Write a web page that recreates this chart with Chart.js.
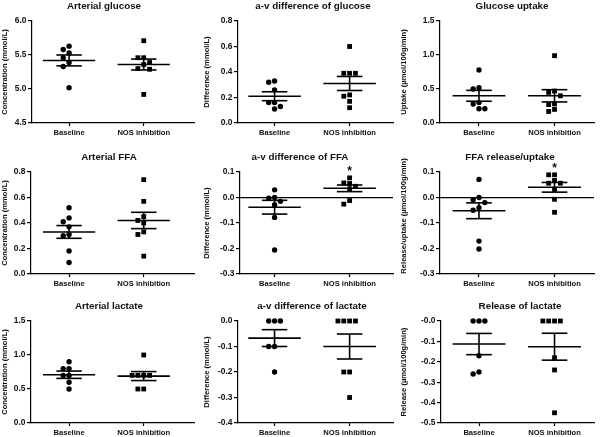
<!DOCTYPE html>
<html><head><meta charset="utf-8">
<script src="https://cdn.jsdelivr.net/npm/chart.js@4.4.1/dist/chart.umd.min.js"></script>
<style>
html,body{margin:0;padding:0;background:#fff;width:600px;height:437px;overflow:hidden;position:relative;}
</style></head><body>
<script>
// ---------------- DATA ----------------
const groupLabels = ['Baseline', 'NOS inhibition'];

// Arterial glucose (mmol/L)
const artGluBase = [5.63, 5.58, 5.53, 5.46, 5.39, 5.33, 5.02];
const artGluNos  = [5.71, 5.46, 5.46, 5.39, 5.36, 5.30, 5.29, 4.92];
const artGluMean = [5.42, 5.36];
const artGluSem  = [0.08, 0.08];
const artGluTicks = [4.5, 5.0, 5.5, 6.0];

// a-v difference of glucose (mmol/L)
const avGluBase = [0.33, 0.32, 0.26, 0.16, 0.16, 0.13, 0.11];
const avGluNos  = [0.60, 0.39, 0.39, 0.39, 0.22, 0.21, 0.17, 0.12];
const avGluMean = [0.21, 0.31];
const avGluSem  = [0.035, 0.055];
const avGluTicks = [0, 0.2, 0.4, 0.6, 0.8];

// Glucose uptake (µmol/100g/min)
const gluUpBase = [0.78, 0.52, 0.50, 0.30, 0.28, 0.21, 0.21];
const gluUpNos  = [0.99, 0.47, 0.45, 0.40, 0.28, 0.27, 0.20, 0.17];
const gluUpMean = [0.40, 0.40];
const gluUpSem  = [0.08, 0.09];
const gluUpTicks = [0, 0.5, 1.0, 1.5];

// Arterial FFA (mmol/L)
const artFfaBase = [0.52, 0.44, 0.41, 0.37, 0.31, 0.30, 0.18, 0.09];
const artFfaNos  = [0.74, 0.57, 0.45, 0.42, 0.40, 0.33, 0.31, 0.14];
const artFfaMean = [0.33, 0.42];
const artFfaSem  = [0.05, 0.064];
const artFfaTicks = [0, 0.2, 0.4, 0.6, 0.8];

// a-v difference of FFA (mmol/L)
const avFfaBase = [0.03, 0.00, -0.003, -0.015, -0.028, -0.078, -0.206];
const avFfaNos  = [0.077, 0.057, 0.055, 0.044, 0.034, -0.012, -0.026];
const avFfaMean = [-0.038, 0.036];
const avFfaSem  = [0.027, 0.013];
const avFfaTicks = [-0.3, -0.2, -0.1, 0, 0.1];
const avFfaSig = ['', '*'];

// FFA release/uptake (µmol/100g/min)
const ffaRuBase = [0.071, 0.0, -0.009, -0.02, -0.04, -0.05, -0.171, -0.202];
const ffaRuNos  = [0.089, 0.089, 0.067, 0.056, 0.056, 0.032, -0.007, -0.058];
const ffaRuMean = [-0.052, 0.040];
const ffaRuSem  = [0.031, 0.019];
const ffaRuTicks = [-0.3, -0.2, -0.1, 0, 0.1];
const ffaRuSig = ['', '*'];

// Arterial lactate (mmol/L)
const artLacBase = [0.9, 0.8, 0.8, 0.7, 0.7, 0.6, 0.5];
const artLacNos  = [1.0, 0.7, 0.7, 0.7, 0.7, 0.5, 0.5];
const artLacMean = [0.71, 0.69];
const artLacSem  = [0.054, 0.066];
const artLacTicks = [0, 0.5, 1.0, 1.5];

// a-v difference of lactate (mmol/L)
const avLacBase = [0, 0, 0, -0.1, -0.1, -0.2];
const avLacNos  = [0, 0, 0, 0, -0.2, -0.2, -0.3];
const avLacMean = [-0.067, -0.1];
const avLacSem  = [0.033, 0.049];
const avLacTicks = [-0.4, -0.3, -0.2, -0.1, 0];

// Release of lactate (µmol/100g/min)
const relLacBase = [0, 0, 0, -0.17, -0.25, -0.26];
const relLacNos  = [0, 0, 0, 0, -0.18, -0.24, -0.45];
const relLacMean = [-0.113, -0.126];
const relLacSem  = [0.052, 0.066];
const relLacTicks = [-0.5, -0.4, -0.3, -0.2, -0.1, 0];
const relLacTickLabels = ['-0.5', '-0.4', '-0.3', '-0.2', '-0.1', '-0.0'];

const panels = [
  {title:'Arterial glucose', yTitle:'Concentration (mmol/L)', base:artGluBase, nos:artGluNos, mean:artGluMean, sem:artGluSem, ticks:artGluTicks},
  {title:'a-v difference of glucose', yTitle:'Difference (mmol/L)', base:avGluBase, nos:avGluNos, mean:avGluMean, sem:avGluSem, ticks:avGluTicks},
  {title:'Glucose uptake', yTitle:'Uptake (\u00b5mol/100g/min)', base:gluUpBase, nos:gluUpNos, mean:gluUpMean, sem:gluUpSem, ticks:gluUpTicks},
  {title:'Arterial FFA', yTitle:'Concentration (mmol/L)', base:artFfaBase, nos:artFfaNos, mean:artFfaMean, sem:artFfaSem, ticks:artFfaTicks},
  {title:'a-v difference of FFA', yTitle:'Difference (mmol/L)', base:avFfaBase, nos:avFfaNos, mean:avFfaMean, sem:avFfaSem, ticks:avFfaTicks, sig:avFfaSig, zero:true},
  {title:'FFA release/uptake', yTitle:'Release/uptake (\u00b5mol/100g/min)', base:ffaRuBase, nos:ffaRuNos, mean:ffaRuMean, sem:ffaRuSem, ticks:ffaRuTicks, sig:ffaRuSig, zero:true},
  {title:'Arterial lactate', yTitle:'Concentration (mmol/L)', base:artLacBase, nos:artLacNos, mean:artLacMean, sem:artLacSem, ticks:artLacTicks},
  {title:'a-v difference of lactate', yTitle:'Difference (mmol/L)', base:avLacBase, nos:avLacNos, mean:avLacMean, sem:avLacSem, ticks:avLacTicks},
  {title:'Release of lactate', yTitle:'Release (\u00b5mol/100g/min)', base:relLacBase, nos:relLacNos, mean:relLacMean, sem:relLacSem, ticks:relLacTicks, labels:relLacTickLabels}
];

// ---------------- LAYOUT / STYLE ----------------
const FONT = '"Liberation Sans", Arial, Helvetica, sans-serif';
const INK = '#111';
const COLS = [
  {left:0,   right:198, c0:70,    c1:146.5},
  {left:202, right:397, c0:275.5, c1:352.5},
  {left:399, right:598, c0:480,   c1:557.5}
];
const ROW_TOP = [0, 151, 300];
const AXIS_X = [[32,238,440],[31,240,440],[31,238,441]];
const TITLE_CX = [[104,313,512],[109,300,510],[109,312,520]];
const YTITLE_DY = [[0,0,0],[0,0,-7],[0,0,0]];
const CHART_TOP = 21, CHART_H = 102, XAXIS_H = 14;
const MEAN_HALF = 0.35, SEM_HALF = 0.17;
const SWARM_STEP = 6, SWARM_DIST = 5.2;

function swarm(values, pxPerUnit) {
  const placed = [];
  return values.map(v => {
    const py = v * pxPerUnit;
    for (let k = 0; k < 30; k++) {
      const off = k === 0 ? 0 : (k % 2 ? -Math.ceil(k / 2) : Math.ceil(k / 2));
      const px = off * SWARM_STEP;
      if (placed.every(p => Math.hypot(p.x - px, p.y - py) >= SWARM_DIST)) {
        placed.push({x: px, y: py});
        return off;
      }
    }
    return 0;
  });
}

panels.forEach((cfg, i) => {
  const r = Math.floor(i / 3), c = i % 3;
  const col = COLS[c];
  const axisX = AXIS_X[r][c];
  const W = col.right - col.left, H = CHART_TOP + CHART_H + XAXIS_H;
  const canvas = document.createElement('canvas');
  canvas.width = W; canvas.height = H;
  canvas.style.cssText = `position:absolute;left:${col.left}px;top:${ROW_TOP[r]}px;width:${W}px;height:${H}px`;
  document.body.appendChild(canvas);

  const spacing = col.c1 - col.c0;
  const xMin = 1 - (col.c0 - axisX) / spacing;
  const xMax = 1 + (col.right - col.c0) / spacing;
  const yMin = cfg.ticks[0], yMax = cfg.ticks[cfg.ticks.length - 1];
  const pxPerUnit = CHART_H / (yMax - yMin);
  const stepUnits = SWARM_STEP / spacing;

  const datasets = [];
  [cfg.base, cfg.nos].forEach((vals, g) => {
    const offs = swarm(vals, pxPerUnit);
    datasets.push({
      data: vals.map((v, k) => ({x: g + 1 + offs[k] * stepUnits, y: v})),
      pointStyle: g ? 'rect' : 'circle', pointRadius: g ? 3.4 : 2.7,
      backgroundColor: '#000', borderColor: '#000', borderWidth: 0, clip: false, order: 1
    });
    const m = cfg.mean[g], s = cfg.sem[g], x = g + 1;
    [[x - MEAN_HALF, m, x + MEAN_HALF, m],
     [x - SEM_HALF, m + s, x + SEM_HALF, m + s],
     [x - SEM_HALF, m - s, x + SEM_HALF, m - s],
     [x, m - s, x, m + s]].forEach(seg => datasets.push({
      data: [{x: seg[0], y: seg[1]}, {x: seg[2], y: seg[3]}],
      showLine: true, borderColor: '#000', borderWidth: 1.6, pointRadius: 0,
      fill: false, clip: false, order: 0
    }));
  });

  const decor = {
    id: 'decor' + i,
    afterDraw(chart) {
      const ctx = chart.ctx, ca = chart.chartArea;
      ctx.save();
      ctx.fillStyle = INK;
      ctx.font = `bold 9.8px ${FONT}`;
      ctx.textAlign = 'center';
      ctx.textBaseline = 'alphabetic';
      ctx.fillText(cfg.title, TITLE_CX[r][c] - col.left, 9);
      ctx.font = `bold 7.6px ${FONT}`;
      ctx.translate(4.6, (ca.top + ca.bottom) / 2 + YTITLE_DY[r][c]);
      ctx.rotate(-Math.PI / 2);
      ctx.textBaseline = 'middle';
      ctx.fillText(cfg.yTitle, 0, 0);
      ctx.restore();
      if (cfg.sig) {
        ctx.save();
        ctx.fillStyle = INK;
        ctx.font = `bold 12px ${FONT}`;
        ctx.textAlign = 'center';
        ctx.textBaseline = 'alphabetic';
        [cfg.base, cfg.nos].forEach((vals, g) => {
          if (!cfg.sig[g]) return;
          const px = chart.scales.x.getPixelForValue(g + 1);
          const py = chart.scales.y.getPixelForValue(Math.max(...vals)) - 10;
          ctx.fillText(cfg.sig[g], px, py + 7);
        });
        ctx.restore();
      }
    }
  };

  new Chart(canvas, {
    type: 'scatter',
    data: {datasets},
    options: {
      responsive: false, animation: false, events: [],
      layout: {padding: {top: CHART_TOP, left: 0, right: 0, bottom: 0}},
      plugins: {legend: {display: false}, tooltip: {enabled: false}, title: {display: false}},
      scales: {
        x: {
          type: 'linear', min: xMin, max: xMax,
          afterBuildTicks: s => { s.ticks = [{value: 1}, {value: 2}]; },
          afterFit: s => { s.height = XAXIS_H; },
          ticks: {callback: v => groupLabels[Math.round(v) - 1] || '', font: {family: FONT, size: 7.6, weight: 'bold'},
                  color: INK, padding: 2, maxRotation: 0, autoSkip: false},
          grid: {display: true, drawOnChartArea: false, tickLength: 3, tickColor: '#000', tickWidth: 1.2},
          border: {display: true, color: '#000', width: 1.2}
        },
        y: {
          type: 'linear', min: yMin, max: yMax,
          afterBuildTicks: s => { s.ticks = cfg.ticks.map(v => ({value: v})); },
          afterFit: s => { s.width = axisX - col.left; },
          ticks: {callback: (v, k) => cfg.labels ? cfg.labels[k] : Number(v).toFixed(1),
                  font: {family: FONT, size: 8.4, weight: 'bold'}, color: INK, padding: 1.5, autoSkip: false},
          grid: {display: true, drawOnChartArea: !!cfg.zero,
                 color: ctx => (ctx.tick && Math.abs(ctx.tick.value) < 1e-9) ? '#000' : 'rgba(0,0,0,0)',
                 lineWidth: 1.2, tickLength: 4, tickColor: '#000', tickWidth: 1.2},
          border: {display: true, color: '#000', width: 1.2}
        }
      }
    },
    plugins: [decor]
  });
});
</script>
</body></html>
